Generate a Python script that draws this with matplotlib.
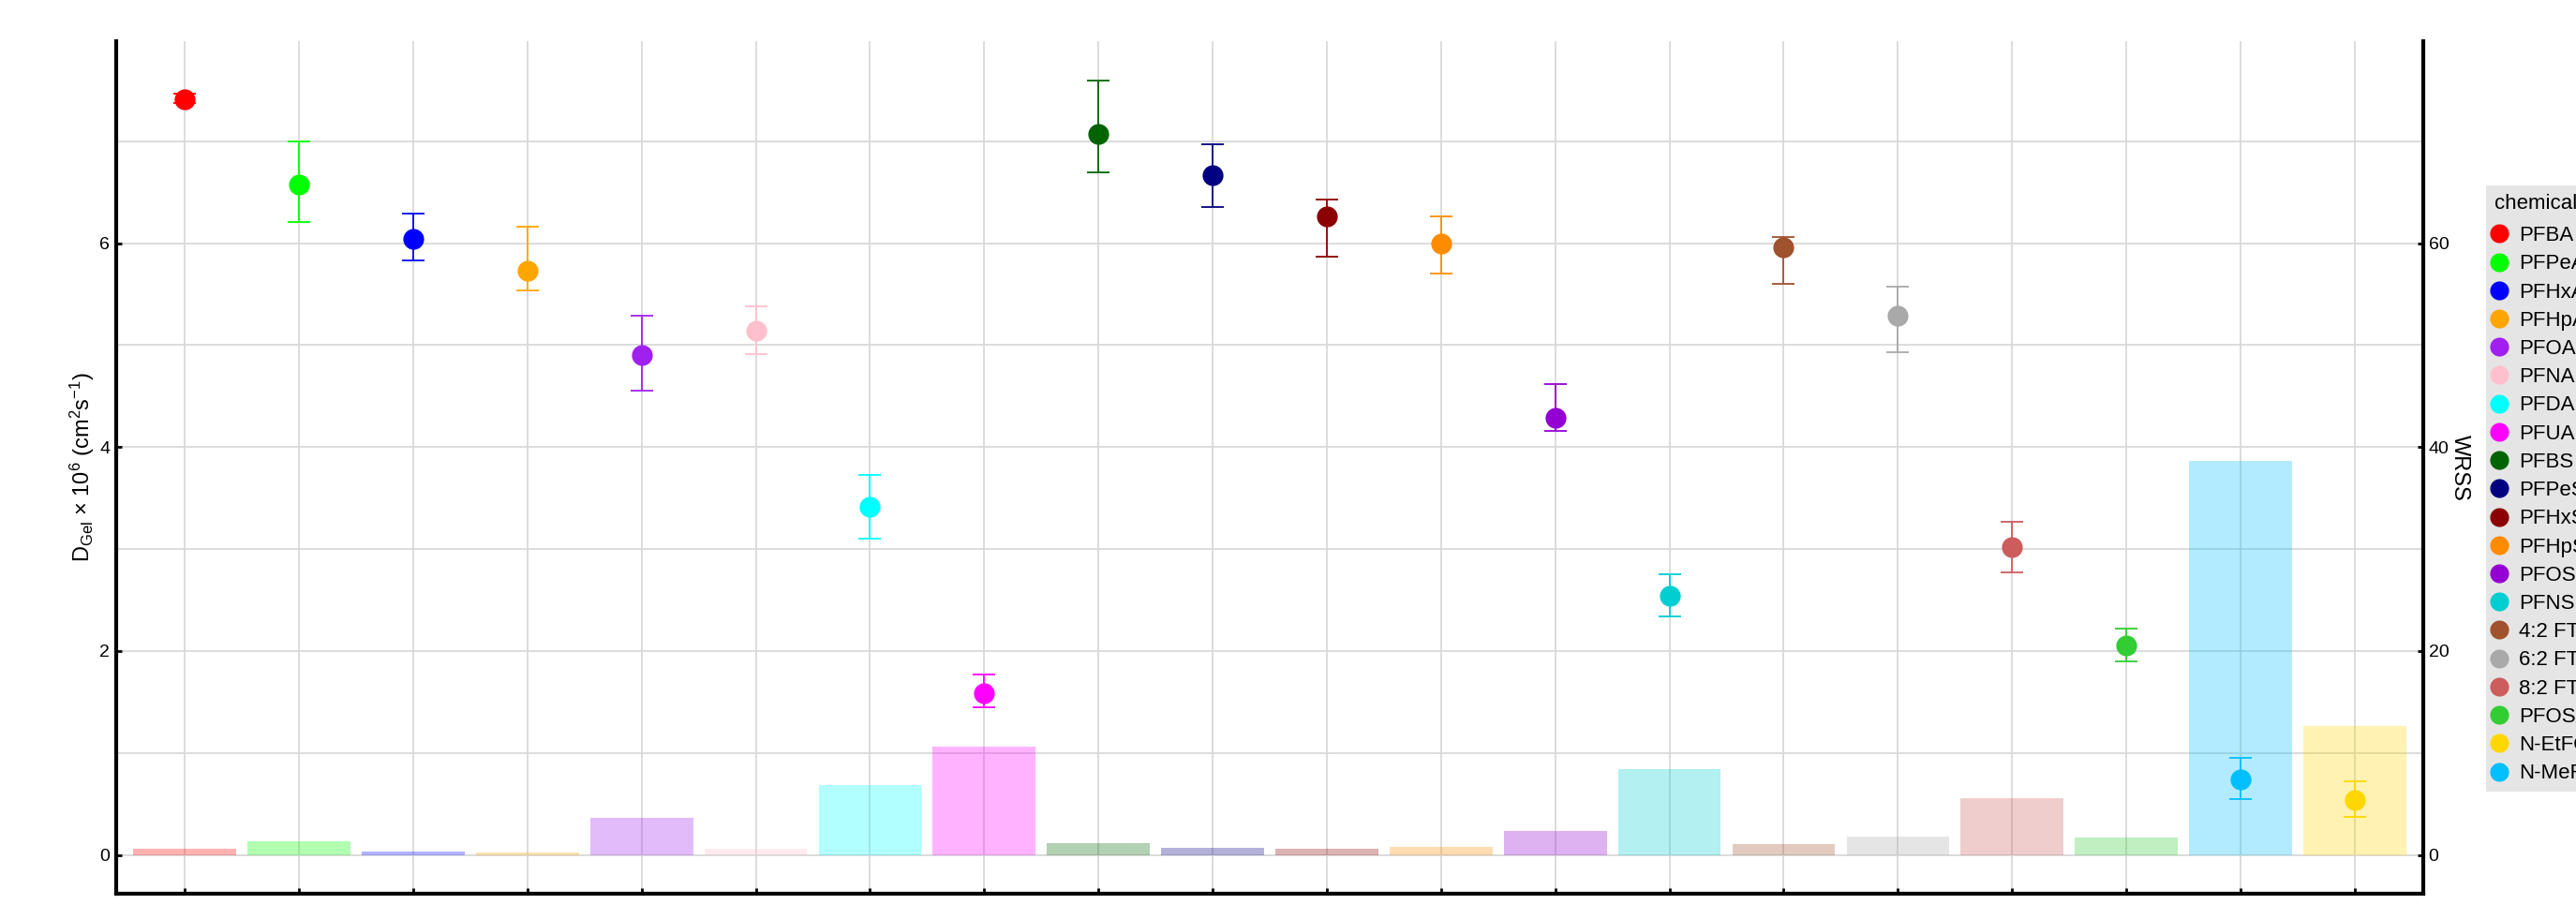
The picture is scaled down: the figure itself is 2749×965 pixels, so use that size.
import matplotlib
matplotlib.use("Agg")
import matplotlib.pyplot as plt
from matplotlib.lines import Line2D
from matplotlib.ticker import MultipleLocator
import numpy as np

plt.rcParams['font.family'] = ['Liberation Sans', 'DejaVu Sans']
plt.rcParams['mathtext.default'] = 'regular'

# Chemicals in legend order, with their colours
chemicals = ["PFBA", "PFPeA", "PFHxA", "PFHpA", "PFOA", "PFNA", "PFDA", "PFUA",
             "PFBS", "PFPeS", "PFHxS", "PFHpS", "PFOS", "PFNS",
             "4:2 FTS", "6:2 FTS", "8:2 FTS", "PFOSA", "N-EtFOSAA", "N-MeFOSAA"]
colors = ["#FF0000", "#00FF00", "#0000FF", "#FFA500", "#A020F0", "#FFC0CB",
          "#00FFFF", "#FF00FF", "#006400", "#000080", "#8B0000", "#FF8C00",
          "#9400D3", "#00CED1", "#A0522D", "#A9A9A9", "#CD5C5C", "#32CD32",
          "#FFD700", "#00BFFF"]

# Order of the chemicals along the x axis
x_order = ["PFBA", "PFPeA", "PFHxA", "PFHpA", "PFOA", "PFNA", "PFDA", "PFUA",
           "PFBS", "PFPeS", "PFHxS", "PFHpS", "PFOS", "PFNS",
           "4:2 FTS", "6:2 FTS", "8:2 FTS", "PFOSA", "N-MeFOSAA", "N-EtFOSAA"]

# Gel diffusion coefficient (x 1e6 cm2/s) with lower / upper bounds, in x order
d_gel = [7.41, 6.57, 6.04, 5.73, 4.90, 5.14, 3.41, 1.59,
         7.07, 6.67, 6.26, 6.00, 4.29, 2.54,
         5.96, 5.29, 3.02, 2.05, 0.745, 0.54]
d_low = [7.37, 6.21, 5.83, 5.54, 4.55, 4.91, 3.10, 1.45,
         6.69, 6.35, 5.87, 5.70, 4.16, 2.34,
         5.60, 4.93, 2.77, 1.90, 0.55, 0.37]
d_high = [7.47, 7.00, 6.29, 6.16, 5.29, 5.38, 3.73, 1.77,
          7.59, 6.97, 6.43, 6.26, 4.62, 2.75,
          6.06, 5.57, 3.27, 2.22, 0.95, 0.72]

# Weighted residual sum of squares of each fit, in x order
wrss = [0.6, 1.3, 0.3, 0.2, 3.6, 0.65, 6.9, 10.6,
        1.2, 0.7, 0.65, 0.8, 2.4, 8.4,
        1.1, 1.8, 5.55, 1.75, 38.6, 12.6]

color_of = dict(zip(chemicals, colors))
xc = np.arange(len(x_order))
xcol = [color_of[c] for c in x_order]

W, H = 2749, 965
fig = plt.figure(figsize=(W / 100, H / 100), dpi=100)

# Back axes: WRSS bars, grid, right-hand scale
ax = fig.add_axes([124 / W, 1 - 954 / H, (2586 - 124) / W, (954 - 44) / H])
ax.bar(xc, wrss, width=0.9, color=xcol, alpha=0.3, linewidth=0, zorder=2)
ax.set_xlim(-0.6, len(x_order) - 0.4)
ax.set_ylim(-3.8, 79.8)
ax.set_yticks([0, 20, 40, 60])
ax.yaxis.set_minor_locator(MultipleLocator(10))
ax.set_xticks(xc)
ax.set_xticklabels([])
ax.set_axisbelow(True)
ax.grid(True, which='both', color='#d9d9d9', linewidth=1.3)
for side in ['left', 'right', 'bottom']:
    ax.spines[side].set_linewidth(3)
ax.spines['top'].set_visible(False)

# Front axes: diffusion coefficients with error bars, left-hand scale
axp = ax.twinx()
axp.set_zorder(ax.get_zorder() + 1)
axp.patch.set_visible(False)
axp.set_ylim(-0.38, 7.98)
axp.yaxis.tick_left()
axp.yaxis.set_label_position('left')
axp.set_yticks([0, 2, 4, 6])
axp.tick_params(axis='y', direction='in', length=4, width=2, labelsize=14,
                pad=5, colors='black')
for side in axp.spines:
    axp.spines[side].set_visible(False)
axp.set_ylabel(r'D$_{Gel}$ × 10$^{6}$ (cm$^{2}$s$^{-1}$)', fontsize=17, labelpad=2.5)

# WRSS scale goes on the right of the back axes
ax.yaxis.tick_right()
ax.yaxis.set_label_position('right')
ax.tick_params(axis='y', which='minor', length=0)
ax.tick_params(axis='both', which='major', direction='in', length=4, width=2,
               labelsize=14, pad=4, colors='black')
ax.set_ylabel('WRSS', rotation=270, fontsize=17, labelpad=0)
ax.yaxis.label.set_verticalalignment('bottom')

for i, c in enumerate(xcol):
    err = [[d_gel[i] - d_low[i]], [d_high[i] - d_gel[i]]]
    axp.errorbar(xc[i], d_gel[i], yerr=err, fmt='none', ecolor=c,
                 elinewidth=1.3, capsize=8.6, capthick=1.3, zorder=3)
    axp.plot(xc[i], d_gel[i], 'o', color=c, markersize=16,
             markeredgewidth=0, zorder=4)

handles = [Line2D([], [], marker='o', ls='', color=c, markersize=14.5,
                  markeredgewidth=0) for c in colors]
leg = fig.legend(handles, chemicals, loc='upper left',
                 bbox_to_anchor=(2653 / W, 1 - 198 / H),
                 title='chemical', alignment='left', fontsize=16,
                 title_fontsize=16, frameon=True, facecolor='#e5e5e5',
                 edgecolor='none', fancybox=False, framealpha=1,
                 labelspacing=0.415, handletextpad=0.76, handlelength=0.42,
                 borderpad=0.4, borderaxespad=0)
# a little more room between the legend title and the first key
leg._legend_box.sep = 9.5

fig.savefig('out.png', dpi=100)
